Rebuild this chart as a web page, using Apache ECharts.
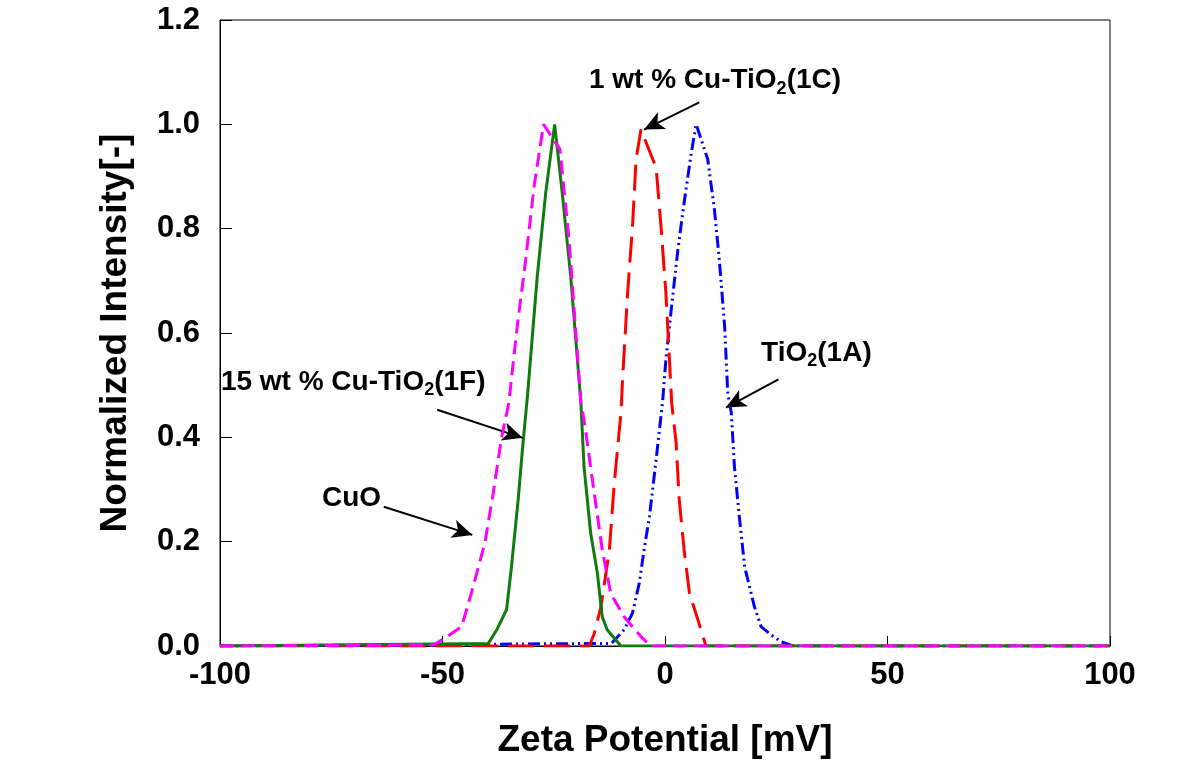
<!DOCTYPE html>
<html>
<head>
<meta charset="utf-8">
<script src="https://cdn.jsdelivr.net/npm/echarts@6/dist/echarts.min.js"></script>
<style>
html,body{margin:0;padding:0;background:#fff;}
#chart{width:1200px;height:774px;}
</style>
</head>
<body>
<div id="chart"></div>
<script>
// ---- data ----
const xTicks = [-100, -50, 0, 50, 100];
const yTicks = [0, 0.2, 0.4, 0.6, 0.8, 1.0, 1.2];

// TiO2 (1A) - blue dash-dot
const tio2X = [-100, -12, -9.2, -7.3, -5.8, -4.7, -3.5, -2.0, -0.5, 0.2, 1.4, 2.9, 4.3, 5.9, 7.0, 9.6, 11.1, 12.2, 13.4, 14.1, 14.9, 15.6, 16.7, 17.9, 20.1, 21.6, 23.9, 26.1, 28.8, 100];
const tio2Y = [0, 0.005, 0.031, 0.063, 0.12, 0.184, 0.248, 0.357, 0.472, 0.549, 0.645, 0.76, 0.85, 0.945, 1.0, 0.933, 0.837, 0.741, 0.613, 0.485, 0.447, 0.344, 0.248, 0.152, 0.075, 0.037, 0.021, 0.008, 0, 0];

// 1 wt % Cu-TiO2 (1C) - red dashed
const c1X = [-100, -17, -15.9, -14.4, -12.5, -11.4, -9.9, -9.5, -8.4, -7.3, -6.5, -5.4, -2.0, -0.9, 0.2, 1.0, 1.5, 2.5, 3.2, 4.3, 5.5, 7.4, 9.2, 100];
const c1Y = [0, 0, 0.024, 0.075, 0.184, 0.312, 0.447, 0.517, 0.677, 0.805, 0.933, 0.99, 0.917, 0.805, 0.677, 0.549, 0.466, 0.389, 0.28, 0.184, 0.101, 0.05, 0, 0];

// 15 wt % Cu-TiO2 (1F) - green solid
const f1X = [-100, -39.7, -37.8, -35.6, -34.5, -33.0, -31.9, -30.9, -28.7, -26.8, -24.8, -23.1, -21.2, -18.9, -18.2, -16.7, -15.2, -14.1, -13.0, -9.9, 100];
const f1Y = [0, 0.005, 0.031, 0.07, 0.152, 0.28, 0.39, 0.48, 0.709, 0.869, 1.0, 0.869, 0.709, 0.466, 0.344, 0.216, 0.14, 0.056, 0.031, 0, 0];

// CuO - magenta dashed
const cuoX = [-100, -52, -49, -45.7, -43.1, -40.5, -38.6, -36.8, -35.1, -33.2, -31.3, -29.4, -27.3, -23.6, -21.5, -18.9, -18.2, -15.9, -14.1, -12.2, -9.2, -5.4, -3.2, 100];
const cuoY = [0, 0.002, 0.018, 0.037, 0.114, 0.197, 0.293, 0.396, 0.466, 0.613, 0.741, 0.882, 1.0, 0.952, 0.773, 0.466, 0.434, 0.293, 0.184, 0.101, 0.056, 0.018, 0, 0];

// annotations: label text anchor (left-middle), arrow tail, arrow tip
const annTexts = ['{t|1 wt % Cu-TiO}{s|2}{t|(1C)}', '{t|TiO}{s|2}{t|(1A)}', '{t|15 wt % Cu-TiO}{s|2}{t|(1F)}', '{t|CuO}'];
const annTextPos = [[-17.1, 1.081], [21.6, 0.559], [-99.8, 0.503], [-77.1, 0.284]];
const annArrowFrom = [[7.7, 1.042], [25.5, 0.511], [-51.2, 0.453], [-63.2, 0.267]];
const annArrowTo = [[-4.7, 0.99], [13.7, 0.457], [-32.0, 0.399], [-43.3, 0.213]];

// ---- build ----
const zip = (xs, ys) => xs.map((x, i) => [x, ys[i]]);
const FONT = 'Liberation Sans, Arial, sans-serif';

const chart = echarts.init(document.getElementById('chart'), null, {renderer: 'canvas'});

const rich = {
  t: {fontSize: 28, fontFamily: FONT, color: '#000', verticalAlign: 'top', fontWeight: 'bold'},
  s: {fontSize: 18, fontFamily: FONT, color: '#000', verticalAlign: 'top', padding: [13, 0, 0, 0], fontWeight: 'bold'}
};

function lineSeries(name, data, color, type, width, z) {
  return {
    name, type: 'line', data, showSymbol: false, symbol: 'none', z,
    lineStyle: {color, width, type, cap: 'butt'},
    animation: false, silent: true
  };
}

const option = {
  animation: false,
  backgroundColor: '#fff',
  grid: {left: 220, right: 90, top: 20, bottom: 128, show: true, borderColor: '#000', borderWidth: 1, backgroundColor: 'transparent'},
  xAxis: {
    type: 'value', min: -100, max: 100, interval: 50,
    name: 'Zeta Potential [mV]', nameLocation: 'middle', nameGap: 76,
    nameTextStyle: {fontSize: 37, fontWeight: 'bold', fontFamily: FONT, color: '#000'},
    axisLine: {show: true, onZero: false, lineStyle: {color: '#000', width: 1}},
    axisTick: {show: true, inside: true, length: 10, lineStyle: {color: '#000'}},
    axisLabel: {fontSize: 31, fontWeight: 'bold', fontFamily: FONT, color: '#000', margin: 14,
      formatter: v => xTicks.includes(v) ? String(v) : ''},
    splitLine: {show: false}
  },
  yAxis: {
    type: 'value', min: 0, max: 1.2, interval: 0.2,
    name: 'Normalized Intensity[-]', nameLocation: 'middle', nameGap: 86, nameRotate: 90,
    nameTextStyle: {fontSize: 37, fontWeight: 'bold', fontFamily: FONT, color: '#000'},
    axisLine: {show: true, onZero: false, lineStyle: {color: '#000', width: 1}},
    axisTick: {show: true, inside: true, length: 12, lineStyle: {color: '#000'}},
    axisLabel: {fontSize: 31, fontWeight: 'bold', fontFamily: FONT, color: '#000', margin: 20,
      formatter: v => yTicks.some(t => Math.abs(t - v) < 1e-6) ? v.toFixed(1) : ''},
    splitLine: {show: false}
  },
  series: [
    lineSeries('TiO2(1A)', zip(tio2X, tio2Y), '#0000ff', [12, 4, 2, 4, 2, 4], 3, 2),
    lineSeries('1 wt % Cu-TiO2(1C)', zip(c1X, c1Y), '#ff0000', [26, 10], 3, 3),
    lineSeries('15 wt % Cu-TiO2(1F)', zip(f1X, f1Y), '#0f7b0f', 'solid', 3, 4),
    lineSeries('CuO', zip(cuoX, cuoY), '#ff00ff', [14, 7], 3, 5),
    {
      name: 'annotations', type: 'scatter', z: 10, silent: true,
      symbolSize: 0,
      itemStyle: {opacity: 1, color: '#000'},
      data: annTextPos.map((p, i) => ({value: p, label: {formatter: annTexts[i]}})),
      label: {show: true, position: 'right', distance: 0, color: '#000', opacity: 1, rich},
      markLine: {
        silent: true, animation: false,
        symbol: ['none', 'arrow'], symbolSize: [14, 20],
        label: {show: false},
        lineStyle: {color: '#000', width: 2, type: 'solid', opacity: 1},
        data: annArrowFrom.map((f, i) => [{coord: f}, {coord: annArrowTo[i]}])
      }
    }
  ]
};
chart.setOption(option);
</script>
</body>
</html>
